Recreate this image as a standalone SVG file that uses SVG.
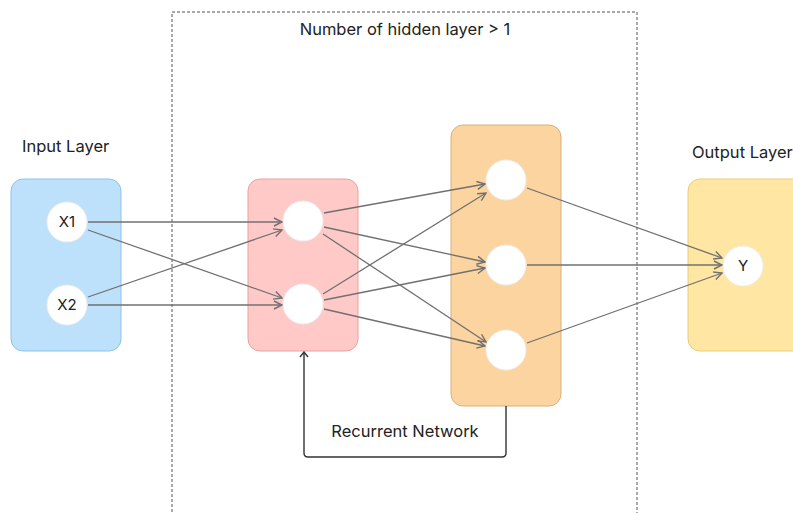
<svg xmlns="http://www.w3.org/2000/svg" width="793" height="513" viewBox="0 0 793 513">
<defs>
<marker id="arr" viewBox="0 0 10 10" refX="9" refY="5" markerWidth="10" markerHeight="10" markerUnits="userSpaceOnUse" orient="auto">
<path d="M1,1 L9,5 L1,9" fill="none" stroke="#707070" stroke-width="1.4"/>
</marker>
<marker id="arrk" viewBox="0 0 10 10" refX="5" refY="1" markerWidth="10" markerHeight="10" markerUnits="userSpaceOnUse" orient="0">
<path d="M1,6 L5,1 L9,6" fill="none" stroke="#333" stroke-width="1.4"/>
</marker>
</defs>
<style>
text{font-family:Inter,"Liberation Sans",sans-serif;fill:#222;}
.lbl{font-size:16.5px;}
.nl{font-size:15px;text-anchor:middle;}
.node{fill:#fff;stroke:#eee;stroke-width:1;}
.c{fill:none;stroke:#707070;stroke-width:1.3;marker-end:url(#arr);}
</style>
<rect width="793" height="513" fill="#fff"/>
<g id="hidden-group">
<rect x="172" y="12" width="465" height="520" fill="none" stroke="#555" stroke-width="1" stroke-dasharray="3,2"/>
<text class="lbl" x="405" y="35" text-anchor="middle">Number of hidden layer &gt; 1</text>
</g>
<g id="input-layer">
<text class="lbl" x="22" y="152">Input Layer</text>
<rect x="11" y="179" width="110" height="172" rx="12" fill="#bde0fb" stroke="#8cc4ec"/>
<g id="x1"><circle class="node" cx="67" cy="222" r="20"/><text class="nl" x="67" y="227">X1</text></g>
<g id="x2"><circle class="node" cx="67" cy="305" r="20"/><text class="nl" x="67" y="310">X2</text></g>
</g>
<g id="hidden-layer-1">
<rect x="248" y="179" width="110" height="172" rx="12" fill="#ffc9c7" stroke="#e9a3a0"/>
<g id="h1a"><circle class="node" cx="303" cy="221" r="20"/></g>
<g id="h1b"><circle class="node" cx="303" cy="304" r="20"/></g>
</g>
<g id="hidden-layer-2">
<rect x="451" y="125" width="110" height="281" rx="12" fill="#fcd49f" stroke="#d9b07a"/>
<g id="h2a"><circle class="node" cx="506" cy="180" r="20"/></g>
<g id="h2b"><circle class="node" cx="506" cy="265" r="20"/></g>
<g id="h2c"><circle class="node" cx="506" cy="350" r="20"/></g>
</g>
<g id="output-layer">
<text class="lbl" x="692" y="158">Output Layer</text>
<rect x="688" y="179" width="120" height="172" rx="12" fill="#ffe6a3" stroke="#e8cc7a"/>
<g id="y"><circle class="node" cx="743" cy="266" r="20"/><text class="nl" x="743" y="271">Y</text></g>
</g>
<g id="connectors">
<line class="c" x1="88" y1="222" x2="282" y2="222"/>
<line class="c" x1="88" y1="230" x2="282" y2="298"/>
<line class="c" x1="88" y1="297" x2="282" y2="230"/>
<line class="c" x1="88" y1="305" x2="282" y2="305"/>
<line class="c" x1="324" y1="213" x2="485" y2="184"/>
<line class="c" x1="324" y1="227" x2="485" y2="262"/>
<line class="c" x1="323" y1="234" x2="486" y2="342"/>
<line class="c" x1="323" y1="294" x2="486" y2="193"/>
<line class="c" x1="324" y1="300" x2="485" y2="268"/>
<line class="c" x1="324" y1="309" x2="485" y2="346"/>
<line class="c" x1="527" y1="188" x2="722" y2="258"/>
<line class="c" x1="527" y1="265" x2="722" y2="265" stroke-width="0.9"/>
<line class="c" x1="527" y1="343" x2="722" y2="273"/>
<path d="M506,406 V453 Q506,457 502,457 H308 Q304,457 304,453 V352" fill="none" stroke="#333" stroke-width="1.4" marker-end="url(#arrk)"/>
<text class="lbl" x="405" y="437" text-anchor="middle">Recurrent Network</text>
</g>
</svg>
